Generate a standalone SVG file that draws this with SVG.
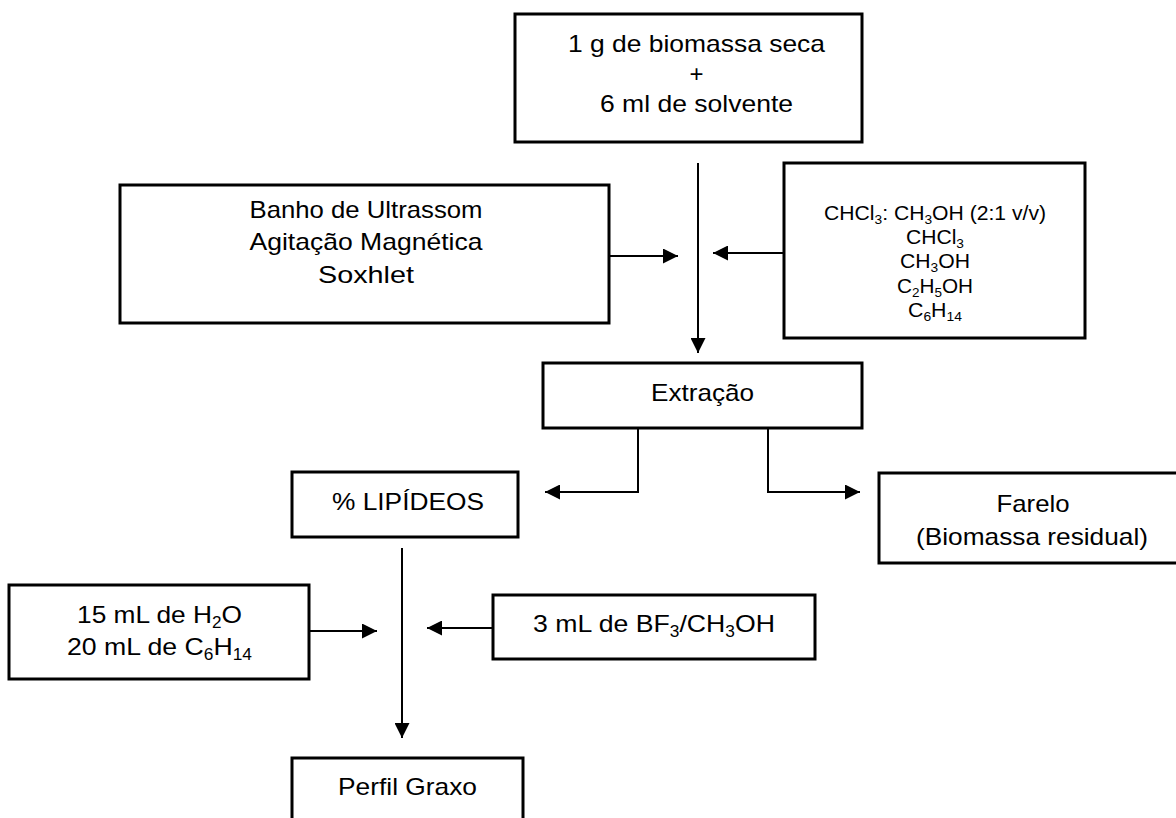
<svg xmlns="http://www.w3.org/2000/svg" width="1176" height="818" viewBox="0 0 1176 818">
<style>
.box{fill:#fff;stroke:#000;stroke-width:3}
.t{font-family:"Liberation Sans",Arial,sans-serif;font-size:24px;fill:#000;text-anchor:middle}
.s{font-family:"Liberation Sans",Arial,sans-serif;font-size:20px;fill:#000;text-anchor:middle}
.sub{font-size:0.65em}
.c{fill:none;stroke:#000;stroke-width:2}
</style>
<defs>
<marker id="ah" markerUnits="userSpaceOnUse" markerWidth="15" markerHeight="15" refX="15" refY="7.5" orient="auto">
<path d="M0,0 L15,7.5 L0,15 z" fill="#000"/>
</marker>
</defs>
<rect width="1176" height="818" fill="#fff"/>
<g id="connectors">
<line class="c" x1="698" y1="163" x2="698" y2="353" marker-end="url(#ah)"/>
<line class="c" x1="609" y1="256" x2="678" y2="256" marker-end="url(#ah)"/>
<line class="c" x1="784" y1="253" x2="713" y2="253" marker-end="url(#ah)"/>
<path class="c" d="M638,428 V492 H545" marker-end="url(#ah)"/>
<path class="c" d="M768,428 V492 H860" marker-end="url(#ah)"/>
<line class="c" x1="402" y1="548" x2="402" y2="738" marker-end="url(#ah)"/>
<line class="c" x1="309" y1="631" x2="377" y2="631" marker-end="url(#ah)"/>
<line class="c" x1="493" y1="628" x2="427" y2="628" marker-end="url(#ah)"/>
</g>
<g id="biomassa">
<rect class="box" x="515" y="14" width="347" height="128"/>
<text class="t" x="696.5" y="52" textLength="257" lengthAdjust="spacingAndGlyphs">1 g de biomassa seca</text>
<text class="t" x="696.5" y="82">+</text>
<text class="t" x="696.5" y="112" textLength="193" lengthAdjust="spacingAndGlyphs">6 ml de solvente</text>
</g>
<g id="metodos">
<rect class="box" x="120" y="185" width="489" height="138"/>
<text class="t" x="366" y="218" textLength="233" lengthAdjust="spacingAndGlyphs">Banho de Ultrassom</text>
<text class="t" x="366" y="250" textLength="233" lengthAdjust="spacingAndGlyphs">Agitação Magnética</text>
<text class="t" x="366" y="283" textLength="96" lengthAdjust="spacingAndGlyphs">Soxhlet</text>
</g>
<g id="solventes">
<rect class="box" x="784" y="163" width="301" height="175"/>
<text class="s" x="935" y="220" textLength="222" lengthAdjust="spacingAndGlyphs">CHCl<tspan class="sub" dy="4">3</tspan><tspan dy="-4">: CH</tspan><tspan class="sub" dy="4">3</tspan><tspan dy="-4">OH (2:1 v/v)</tspan></text>
<text class="s" x="935" y="244" textLength="58" lengthAdjust="spacingAndGlyphs">CHCl<tspan class="sub" dy="4">3</tspan></text>
<text class="s" x="935" y="268" textLength="70" lengthAdjust="spacingAndGlyphs">CH<tspan class="sub" dy="4">3</tspan><tspan dy="-4">OH</tspan></text>
<text class="s" x="935" y="293" textLength="76" lengthAdjust="spacingAndGlyphs">C<tspan class="sub" dy="4">2</tspan><tspan dy="-4">H</tspan><tspan class="sub" dy="4">5</tspan><tspan dy="-4">OH</tspan></text>
<text class="s" x="935" y="317" textLength="54" lengthAdjust="spacingAndGlyphs">C<tspan class="sub" dy="4">6</tspan><tspan dy="-4">H</tspan><tspan class="sub" dy="4">14</tspan></text>
</g>
<g id="extracao">
<rect class="box" x="543" y="363" width="319" height="65"/>
<text class="t" x="702.5" y="401" textLength="103" lengthAdjust="spacingAndGlyphs">Extração</text>
</g>
<g id="lipideos">
<rect class="box" x="292" y="472" width="226" height="65"/>
<text class="t" x="408" y="510" textLength="152" lengthAdjust="spacingAndGlyphs">% LIPÍDEOS</text>
</g>
<g id="farelo">
<rect class="box" x="879" y="473" width="312" height="90"/>
<text class="t" x="1033" y="512" textLength="73" lengthAdjust="spacingAndGlyphs">Farelo</text>
<text class="t" x="1032" y="545" textLength="232" lengthAdjust="spacingAndGlyphs">(Biomassa residual)</text>
</g>
<g id="reagentes">
<rect class="box" x="9" y="585" width="300" height="94"/>
<text class="t" x="159.5" y="623" textLength="165" lengthAdjust="spacingAndGlyphs">15 mL de H<tspan class="sub" dy="5">2</tspan><tspan dy="-5">O</tspan></text>
<text class="t" x="159.5" y="655" textLength="185" lengthAdjust="spacingAndGlyphs">20 mL de C<tspan class="sub" dy="5">6</tspan><tspan dy="-5">H</tspan><tspan class="sub" dy="5">14</tspan></text>
</g>
<g id="bf3">
<rect class="box" x="493" y="595" width="322" height="64"/>
<text class="t" x="654" y="632" textLength="242" lengthAdjust="spacingAndGlyphs">3 mL de BF<tspan class="sub" dy="5">3</tspan><tspan dy="-5">/CH</tspan><tspan class="sub" dy="5">3</tspan><tspan dy="-5">OH</tspan></text>
</g>
<g id="perfil">
<rect class="box" x="292" y="758" width="231" height="80"/>
<text class="t" x="407.5" y="795" textLength="139" lengthAdjust="spacingAndGlyphs">Perfil Graxo</text>
</g>
</svg>
